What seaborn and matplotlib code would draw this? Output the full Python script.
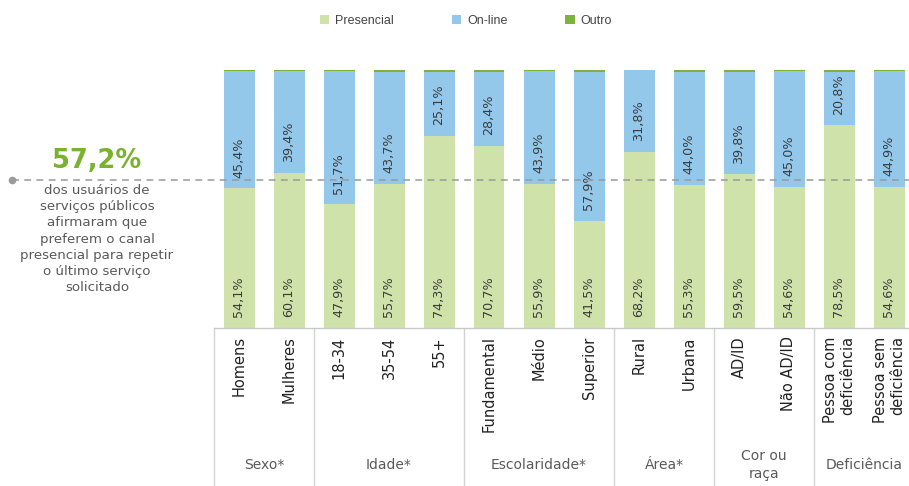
import matplotlib
matplotlib.use("Agg")
import matplotlib.pyplot as plt
import matplotlib.transforms as mtransforms
from matplotlib.patches import Patch
import seaborn as sns
import pandas as pd

sns.set_theme(style="white")
plt.rcParams['font.family'] = ['DejaVu Sans']

# ---------------- data ----------------
categories = ["Homens", "Mulheres", "18-34", "35-54", "55+", "Fundamental", "Médio",
              "Superior", "Rural", "Urbana", "AD/ID", "Não AD/ID",
              "Pessoa com\ndeficiência", "Pessoa sem\ndeficiência"]
presencial = [54.1, 60.1, 47.9, 55.7, 74.3, 70.7, 55.9, 41.5, 68.2, 55.3, 59.5, 54.6, 78.5, 54.6]
online = [45.4, 39.4, 51.7, 43.7, 25.1, 28.4, 43.9, 57.9, 31.8, 44.0, 39.8, 45.0, 20.8, 44.9]
outro = [0.5, 0.5, 0.4, 0.6, 0.6, 0.9, 0.2, 0.6, 0.0, 0.7, 0.7, 0.4, 0.7, 0.5]
groups = ["Sexo*", "Idade*", "Escolaridade*", "Área*", "Cor ou\nraça", "Deficiência"]
group_sizes = [2, 3, 3, 2, 2, 2]
series_names = ["Presencial", "On-line", "Outro"]
highlight_value = 57.2
highlight_label = "57,2%"
highlight_text = ("dos usuários de\nserviços públicos\nafirmaram que\npreferem o canal\n"
                  "presencial para repetir\no último serviço\nsolicitado")

# ---------------- styling ----------------
C_PRES = "#CFE2AA"
C_ONL = "#93C8EB"
C_OUT = "#7DB23C"
C_GREEN_TXT = "#78B22E"
C_TXT = "#3C3C3C"
C_GRAY = "#5A5A5A"
C_LINE = "#D2D2D2"

W, H = 909, 486
fig = plt.figure(figsize=(W / 100, H / 100), dpi=100)
ax = fig.add_axes([214 / W, 158 / H, 695 / W, 258 / H])

df = pd.DataFrame({"cat": categories, "p": presencial, "o": online, "x": outro})
df["po"] = df["p"] + df["o"]
df["tot"] = df["po"] + df["x"]

bw = 0.62
sns.barplot(data=df, x="cat", y="tot", color=C_OUT, saturation=1, width=bw, ax=ax,
            order=categories, linewidth=0)
sns.barplot(data=df, x="cat", y="po", color=C_ONL, saturation=1, width=bw, ax=ax,
            order=categories, linewidth=0)
sns.barplot(data=df, x="cat", y="p", color=C_PRES, saturation=1, width=bw, ax=ax,
            order=categories, linewidth=0)

ax.set_xlim(-0.5, -0.5 + 695 / 50)
ax.set_ylim(0, 100)
ax.set_xlabel("")
ax.set_ylabel("")
ax.set_yticks([])
for s in ["top", "left", "right"]:
    ax.spines[s].set_visible(False)
ax.spines["bottom"].set_color("#C8C8C8")
ax.spines["bottom"].set_linewidth(1)
ax.tick_params(axis="x", length=0, pad=6)
ax.set_xticks(range(len(categories)))
ax.set_xticklabels(categories, rotation=90, ha="center", va="top",
                   multialignment="right", fontsize=10.5, color="#222222")

# value labels
lab_off = 4.2
for i in range(len(categories)):
    ax.text(i, lab_off, f"{presencial[i]:.1f}%".replace(".", ","), rotation=90,
            ha="center", va="bottom", fontsize=9.2, color=C_TXT, zorder=5)
    ax.text(i, presencial[i] + lab_off, f"{online[i]:.1f}%".replace(".", ","), rotation=90,
            ha="center", va="bottom", fontsize=9.2, color=C_TXT, zorder=5)

# group separators and labels
tr_xfig = mtransforms.blended_transform_factory(ax.transData, fig.transFigure)
bottom_fig = 158 / H
start = -0.5
edges = [start]
for g, n in zip(groups, group_sizes):
    end = start + n
    ax.text((start + end) / 2, 21 / H, g, transform=tr_xfig, ha="center", va="center",
            fontsize=10, color=C_GRAY, linespacing=1.3)
    edges.append(end)
    start = end
for e in edges[:-1]:
    ax.plot([e, e], [0, bottom_fig], transform=tr_xfig, color=C_LINE, lw=1, clip_on=False)

# dashed highlight line
tr_fx = mtransforms.blended_transform_factory(fig.transFigure, ax.transData)
ax.plot([12 / W, 1.0], [highlight_value, highlight_value], transform=tr_fx,
        color="#9A9A9A", lw=1.1, ls=(0, (4.5, 3.5)), clip_on=False, zorder=6)
ax.plot([12 / W], [highlight_value], transform=tr_fx, marker="o", ms=4.5,
        color="#9A9A9A", clip_on=False, zorder=6)

# left annotation
fig.text(97 / W, 1 - 161 / H, highlight_label, ha="center", va="center",
         fontsize=18.5, fontweight="bold", color=C_GREEN_TXT)
fig.text(97 / W, 1 - 184 / H, highlight_text, ha="center", va="top",
         fontsize=9.6, color=C_GRAY, linespacing=1.32)

# legend
handles = [Patch(facecolor=c, edgecolor="none", label=n)
           for c, n in zip([C_PRES, C_ONL, C_OUT], series_names)]
fig.legend(handles=handles, loc="center", bbox_to_anchor=(466 / W, 1 - 21 / H), ncol=3,
           frameon=False, handlelength=0.75, handleheight=0.75, handletextpad=0.5,
           columnspacing=4.6, prop={"family": "Liberation Sans", "size": 9},
           labelcolor="#444444")

fig.savefig("out.png", dpi=100)
